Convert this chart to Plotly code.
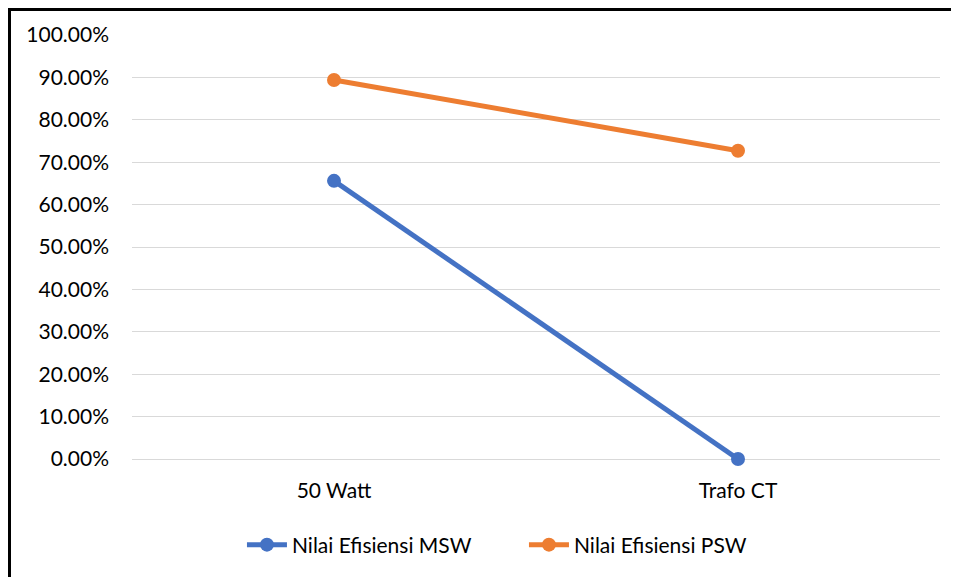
import plotly.graph_objects as go

categories = ["50 Watt", "Trafo CT"]
msw_values = [0.656, 0.0]
psw_values = [0.894, 0.727]
y_ticks = [0, 0.1, 0.2, 0.3, 0.4, 0.5, 0.6, 0.7, 0.8, 0.9, 1.0]

FONT = "Lato"
OFF = 8  # page body margin offset

fig = go.Figure()
fig.add_trace(go.Scatter(
    x=categories, y=msw_values, name="Nilai Efisiensi MSW",
    mode="lines+markers", cliponaxis=False,
    line=dict(color="#4472C4", width=5),
    marker=dict(color="#4472C4", size=14),
))
fig.add_trace(go.Scatter(
    x=categories, y=psw_values, name="Nilai Efisiensi PSW",
    mode="lines+markers", cliponaxis=False,
    line=dict(color="#ED7D31", width=5),
    marker=dict(color="#ED7D31", size=14),
))

W, H = 959 - OFF, 577 - OFF
L, T = 132 - OFF, 35 - OFF
R = W - (940 - OFF)
B = H - (459 - OFF)
pw, ph = W - L - R, H - T - B

def px(xp):
    return (xp - OFF - L) / pw

def py(yp):
    return (H - B - (yp - OFF)) / ph

fig.update_layout(
    width=W, height=H,
    margin=dict(l=L, r=R, t=T, b=B),
    paper_bgcolor="white", plot_bgcolor="white",
    font=dict(family=FONT, size=21, color="#000000"),
    showlegend=True,
    legend=dict(
        orientation="h", x=px(246) - 0.005, xanchor="left",
        y=py(545), yanchor="middle",
        font=dict(family=FONT, size=21, color="#000000"),
        itemwidth=40, entrywidth=227, entrywidthmode="pixels",
    ),
    xaxis=dict(
        type="category", range=[-0.5, 1.5],
        showgrid=False, zeroline=False, showline=False,
        ticks="", ticklabelstandoff=17,
        tickfont=dict(family=FONT, size=21, color="#000000"),
    ),
    yaxis=dict(
        range=[0, 1.0], tickvals=y_ticks, tickformat=".2%",
        showgrid=True, gridcolor="#D9D9D9", gridwidth=1,
        zeroline=True, zerolinecolor="#D9D9D9", zerolinewidth=1,
        showline=False, ticks="", ticklabelstandoff=22,
        tickfont=dict(family=FONT, size=21, color="#000000"),
    ),
    shapes=[
        dict(type="line", xref="paper", yref="paper",
             x0=px(9.5), x1=px(9.5), y0=py(9.5), y1=py(600),
             line=dict(color="black", width=3)),
        dict(type="line", xref="paper", yref="paper",
             x0=px(8), x1=px(980), y0=py(9.5), y1=py(9.5),
             line=dict(color="black", width=3)),
    ],
)

fig.write_html("out.html", config={"displayModeBar": False})
